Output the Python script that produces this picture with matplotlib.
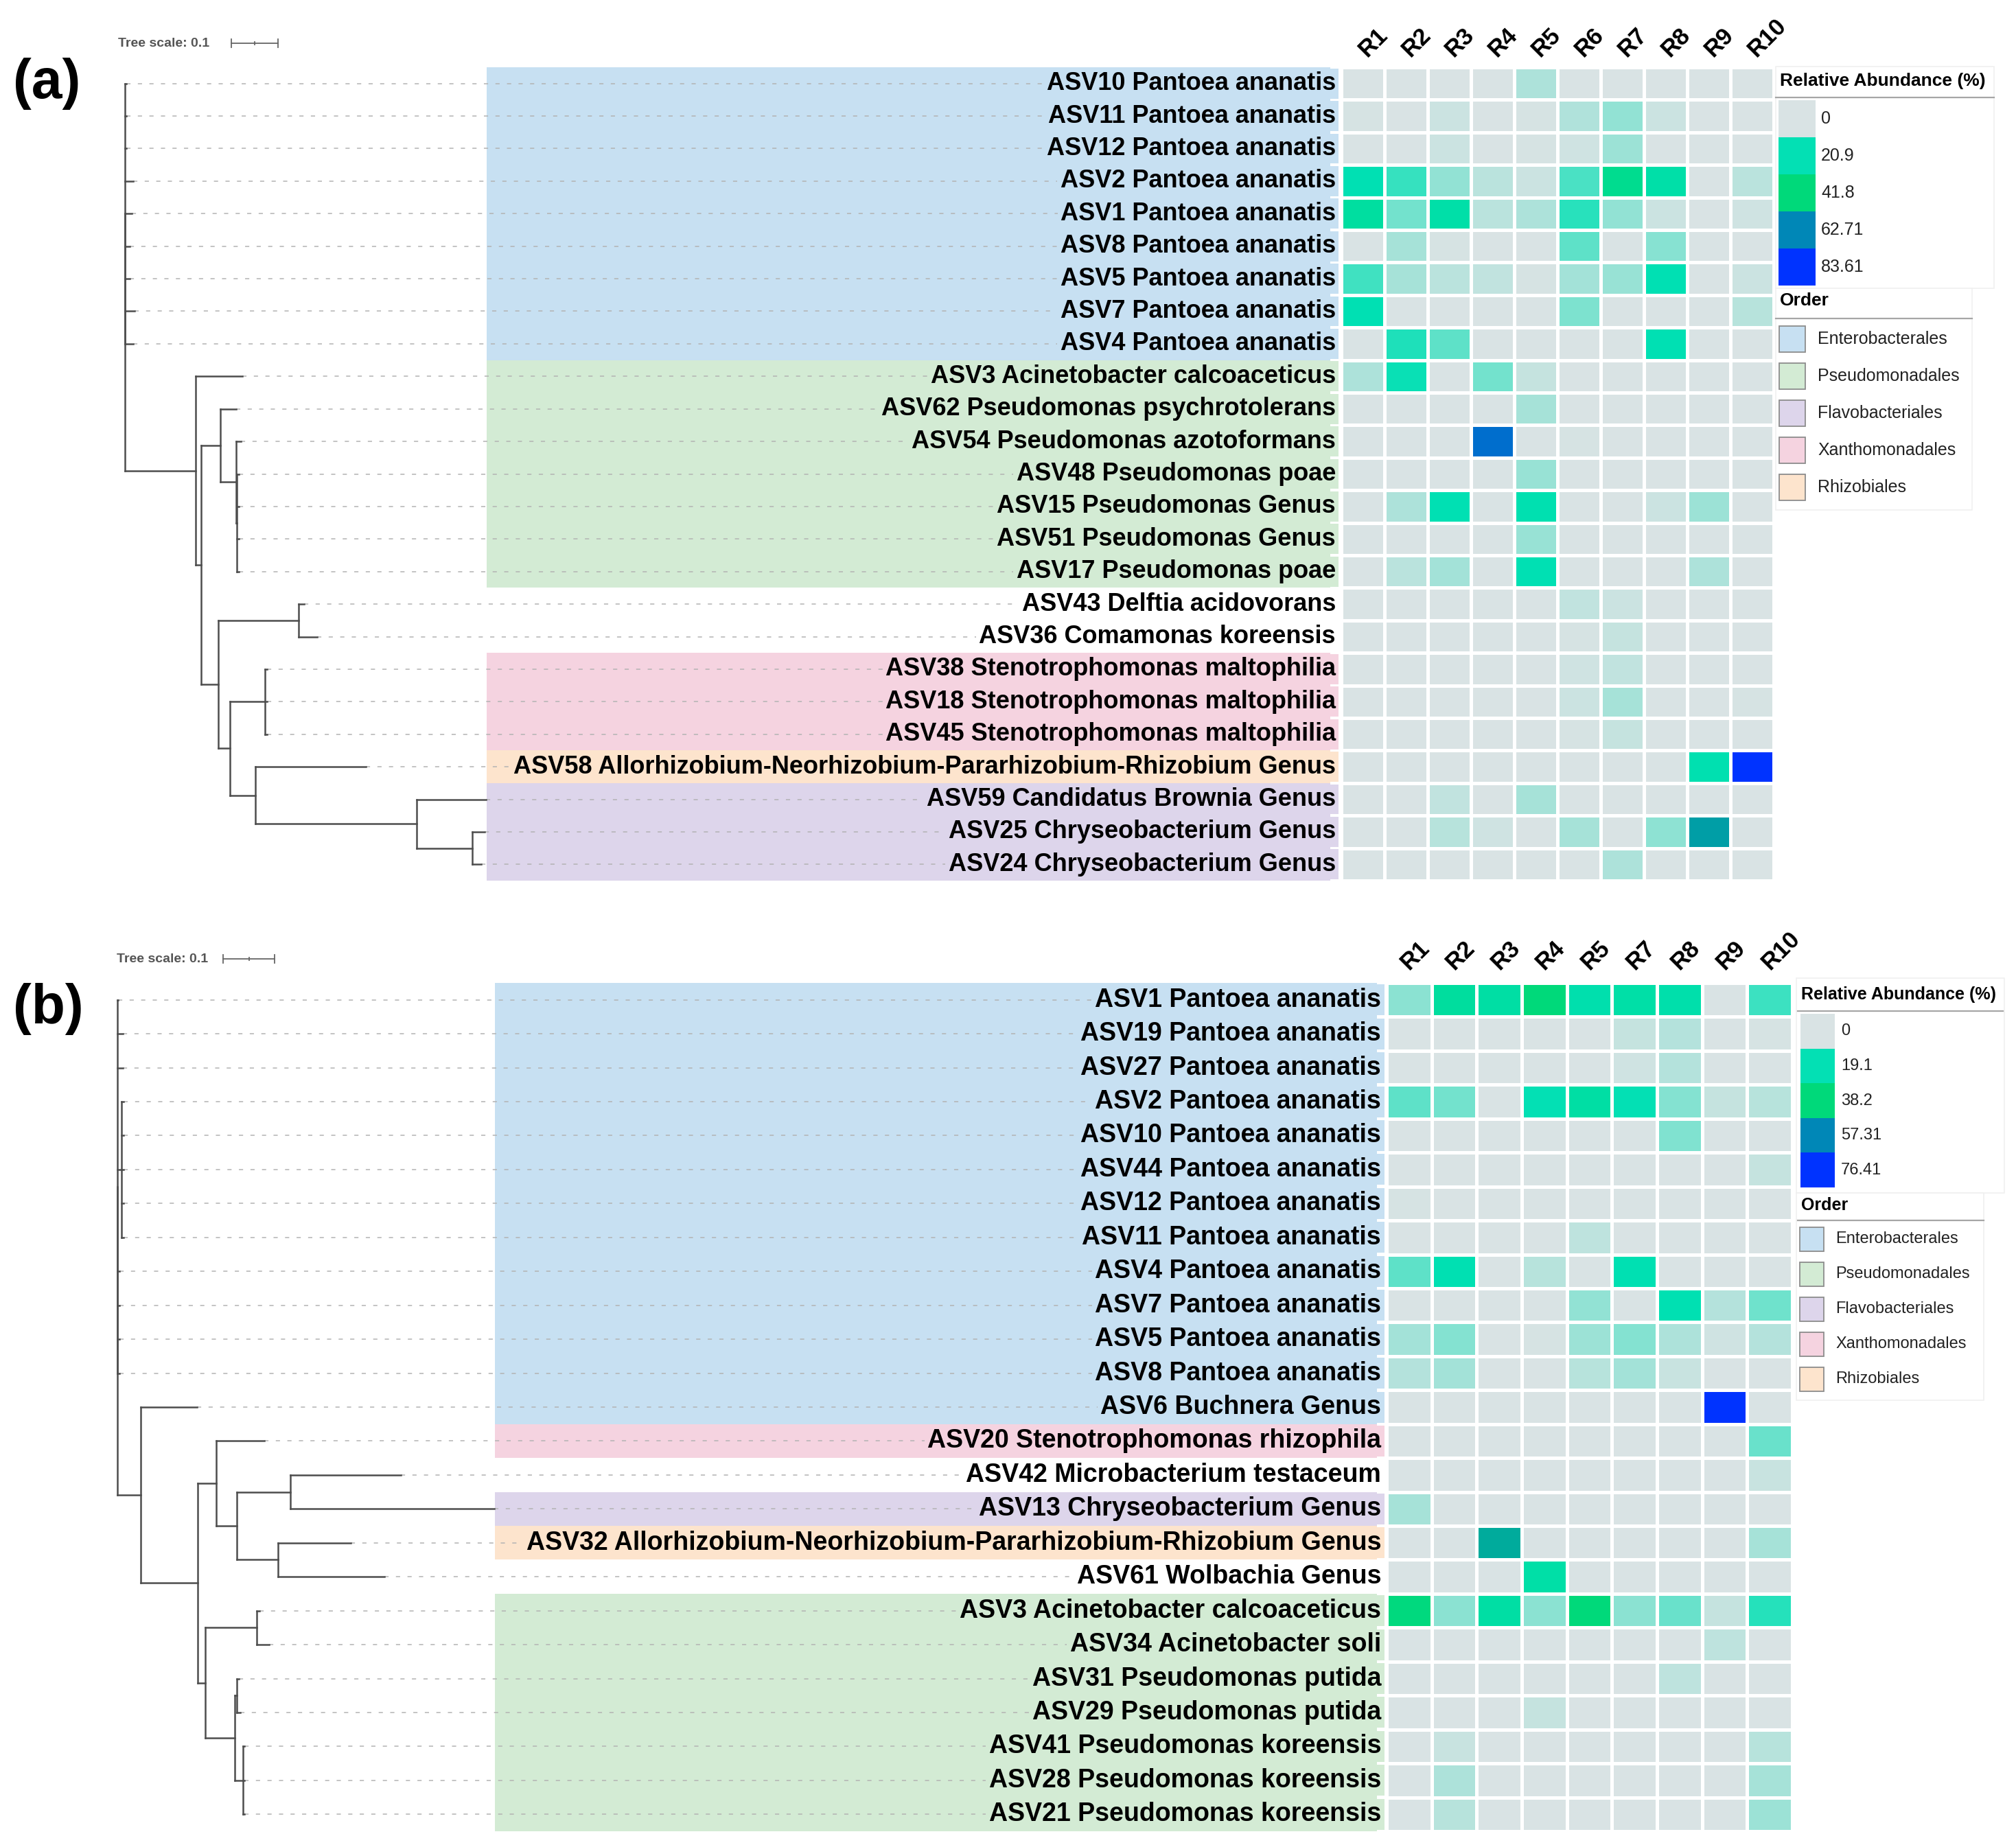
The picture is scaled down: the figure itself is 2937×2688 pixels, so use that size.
import matplotlib
matplotlib.use('Agg')
import matplotlib.pyplot as plt
import numpy as np
from matplotlib.colors import LinearSegmentedColormap
from matplotlib.patches import Rectangle
from matplotlib.collections import LineCollection

# ---- Datos: arboles (Newick), etiquetas, orden y abundancia relativa ----
tree_a = ("((ASV10:0.003,ASV11:0.003,ASV12:0.003,ASV2:0.018,ASV1:0.014,ASV8:0.010,"
          "ASV5:0.010,ASV7:0.021,ASV4:0.018):0.0,(ASV3:0.100,((ASV62:0.034,"
          "(ASV54:0.010,(ASV48:0.004,ASV15:0.004,ASV51:0.004,ASV17:0.004):0.002)"
          ":0.034):0.041,((ASV43:0.012,ASV36:0.040):0.172,((ASV38:0.004,ASV18:0.004,"
          "ASV45:0.004):0.075,(ASV58:0.237,(ASV59:0.149,(ASV25:0.027,ASV24:0.019)"
          ":0.119):0.346):0.054):0.025):0.037):0.012):0.151);")

labels_a = ['ASV10 Pantoea ananatis', 'ASV11 Pantoea ananatis', 'ASV12 Pantoea ananatis',
            'ASV2 Pantoea ananatis', 'ASV1 Pantoea ananatis', 'ASV8 Pantoea ananatis',
            'ASV5 Pantoea ananatis', 'ASV7 Pantoea ananatis', 'ASV4 Pantoea ananatis',
            'ASV3 Acinetobacter calcoaceticus', 'ASV62 Pseudomonas psychrotolerans',
            'ASV54 Pseudomonas azotoformans', 'ASV48 Pseudomonas poae',
            'ASV15 Pseudomonas Genus', 'ASV51 Pseudomonas Genus', 'ASV17 Pseudomonas poae',
            'ASV43 Delftia acidovorans', 'ASV36 Comamonas koreensis',
            'ASV38 Stenotrophomonas maltophilia', 'ASV18 Stenotrophomonas maltophilia',
            'ASV45 Stenotrophomonas maltophilia',
            'ASV58 Allorhizobium-Neorhizobium-Pararhizobium-Rhizobium Genus',
            'ASV59 Candidatus Brownia Genus', 'ASV25 Chryseobacterium Genus',
            'ASV24 Chryseobacterium Genus']

orders_a = ['E', 'E', 'E', 'E', 'E', 'E', 'E', 'E', 'E',
            'P', 'P', 'P', 'P', 'P', 'P', 'P',
            '', '',
            'X', 'X', 'X',
            'R',
            'F', 'F', 'F']

samples_a = ['R1', 'R2', 'R3', 'R4', 'R5', 'R6', 'R7', 'R8', 'R9', 'R10']
levels_a = [0, 20.9, 41.8, 62.71, 83.61]

abund_a = [
    [0, 0, 0, 0, 4.5, 0, 0, 0, 0, 0],
    [0.5, 0, 1.5, 0, 0.5, 4, 7, 1.5, 0, 0],
    [0, 0, 1.5, 0, 0.5, 1, 6, 0, 0, 0],
    [21, 16, 7, 3, 1.5, 14, 34, 25, 0, 3],
    [28, 10, 25, 3, 4.5, 17, 7, 1.5, 0, 1],
    [0, 5, 0.5, 0, 0, 12, 0, 8, 0, 0],
    [15, 5, 3, 2.5, 0.5, 5.5, 6.5, 21, 0, 1.5],
    [21, 0, 0, 0, 0, 9, 0, 0, 0, 3.5],
    [0, 18, 12, 0, 0, 0, 0, 21, 0, 0],
    [4.5, 20, 0, 10, 2, 0, 0, 0, 0, 0],
    [0, 0, 0, 0, 5, 0, 0, 0, 0, 0],
    [0, 0, 0, 69, 0, 0.5, 0, 0, 0, 0],
    [0, 0, 0, 0, 6.5, 0, 0, 0, 0, 0],
    [0, 4.5, 21, 0, 22, 0, 0, 1.5, 6, 0],
    [0, 0, 0, 0, 6.5, 0, 0, 0, 0, 0],
    [0, 3, 5.5, 0, 21, 0, 0, 0, 4.5, 0],
    [0, 0, 0, 0, 0, 2.5, 1.5, 0, 0, 0],
    [0, 0, 0, 0, 0, 0.5, 2, 0, 0, 0],
    [0, 0, 0, 0, 0, 1, 2.5, 0, 0, 0],
    [0, 0, 0, 0, 0, 1.5, 5, 0, 0, 0.5],
    [0, 0, 0, 0, 0, 0.5, 2, 0, 0, 0],
    [0, 0, 0, 0, 0, 0, 0, 0, 22, 83.61],
    [0, 0, 2.5, 0, 5, 0, 0, 0, 0, 0],
    [0, 0, 3.5, 1, 0, 5, 0, 7.5, 57, 0],
    [0, 0, 0, 0, 0, 0, 4.5, 0, 0, 0],
]

tree_b = ("((ASV1:0.001,ASV19:0.010,ASV27:0.010,(ASV2:0.004,ASV10:0.004,ASV44:0.004,"
          "ASV12:0.004,ASV11:0.004):0.008,ASV4:0.004,ASV7:0.004,ASV5:0.004,ASV8:0.004)"
          ":0.0,(ASV6:0.110,((ASV20:0.093,((ASV42:0.215,ASV13:0.396):0.104,"
          "(ASV32:0.141,ASV61:0.207):0.080):0.040):0.036,((ASV3:0.005,ASV34:0.024)"
          ":0.100,((ASV31:0.004,ASV29:0.007):0.004,(ASV41:0.003,ASV28:0.003,"
          "ASV21:0.003):0.016):0.057):0.015):0.111):0.045);")

labels_b = ['ASV1 Pantoea ananatis', 'ASV19 Pantoea ananatis', 'ASV27 Pantoea ananatis',
            'ASV2 Pantoea ananatis', 'ASV10 Pantoea ananatis', 'ASV44 Pantoea ananatis',
            'ASV12 Pantoea ananatis', 'ASV11 Pantoea ananatis', 'ASV4 Pantoea ananatis',
            'ASV7 Pantoea ananatis', 'ASV5 Pantoea ananatis', 'ASV8 Pantoea ananatis',
            'ASV6 Buchnera Genus', 'ASV20 Stenotrophomonas rhizophila',
            'ASV42 Microbacterium testaceum', 'ASV13 Chryseobacterium Genus',
            'ASV32 Allorhizobium-Neorhizobium-Pararhizobium-Rhizobium Genus',
            'ASV61 Wolbachia Genus', 'ASV3 Acinetobacter calcoaceticus',
            'ASV34 Acinetobacter soli', 'ASV31 Pseudomonas putida',
            'ASV29 Pseudomonas putida', 'ASV41 Pseudomonas koreensis',
            'ASV28 Pseudomonas koreensis', 'ASV21 Pseudomonas koreensis']

orders_b = ['E', 'E', 'E', 'E', 'E', 'E', 'E', 'E', 'E', 'E', 'E', 'E', 'E',
            'X', '', 'F', 'R', '',
            'P', 'P', 'P', 'P', 'P', 'P', 'P']

samples_b = ['R1', 'R2', 'R3', 'R4', 'R5', 'R7', 'R8', 'R9', 'R10']
levels_b = [0, 19.1, 38.2, 57.31, 76.41]

abund_b = [
    [7, 26, 24, 38, 21, 23, 22, 0, 14],
    [0, 0, 0, 0, 0, 2, 3.5, 0, 0.5],
    [0, 0, 0, 0, 0, 1, 3.5, 0, 0],
    [11, 9, 0, 19, 24, 19, 7.5, 2, 3],
    [0, 0, 0, 0, 0, 0, 8, 0, 0],
    [0, 0, 0, 0, 0, 0, 0, 0, 2],
    [0.5, 0, 0, 0, 0, 0, 0, 0, 0],
    [0, 0, 0, 0, 2.5, 0, 0, 0, 0],
    [11, 19.5, 0, 3, 0, 19.5, 0, 0, 0],
    [0, 0, 0, 0, 6.5, 0, 19.5, 3.5, 9.5],
    [5, 7.5, 0, 0.5, 5.5, 7.5, 4, 1, 3.5],
    [3.5, 5, 0, 0, 3, 5, 1.5, 0, 0],
    [0, 0, 0, 0, 0, 0, 0, 76.41, 0],
    [0, 0, 0, 0, 0, 0, 0, 0, 10],
    [0, 0, 0, 0, 0, 0, 0, 0, 1.5],
    [4.5, 0, 0, 0, 0, 0, 0, 0, 0],
    [0, 0, 49, 0, 0, 0, 0, 0, 4.5],
    [0, 0, 0, 23, 0, 0, 0, 0, 0],
    [37, 7, 24, 7, 38, 7, 10, 2, 16],
    [0, 0, 0, 0, 0, 0, 0, 2.5, 0],
    [0, 0, 0, 0, 0, 0, 2.5, 0, 0],
    [0, 0, 0, 2, 0, 0, 0, 0, 0],
    [0, 1.5, 0, 0, 0, 0, 0, 0, 3],
    [0, 4, 0, 0, 0, 0, 0, 0, 4.5],
    [0, 3, 0, 0, 0, 0, 0, 0, 5.5],
]

order_codes = ['E', 'P', 'F', 'X', 'R']
order_names = ['Enterobacterales', 'Pseudomonadales', 'Flavobacteriales',
               'Xanthomonadales', 'Rhizobiales']
order_colors = ['#C7E0F2', '#D3EBD4', '#DDD5EB', '#F5D3E0', '#FDE4CD']
heat_colors = ['#D9E3E4', '#00E0B3', '#00D97A', '#0088B6', '#0033FF']

ARIAL = ['Liberation Sans', 'DejaVu Sans']

W, H = 2937, 2688
fig = plt.figure(figsize=(W / 100, H / 100), dpi=100)


def rect_px(x0, y0, x1, y1):
    # caja en pixeles de la figura -> rect de axes
    return [x0 / W, 1 - y1 / H, (x1 - x0) / W, (y1 - y0) / H]


def parse_newick(s):
    s = s.strip().rstrip(';')
    pos = 0

    def node():
        nonlocal pos
        kids = []
        if s[pos] == '(':
            pos += 1
            kids.append(node())
            while s[pos] == ',':
                pos += 1
                kids.append(node())
            pos += 1
        start = pos
        while pos < len(s) and s[pos] not in ',():':
            pos += 1
        name = s[start:pos]
        bl = 0.0
        if pos < len(s) and s[pos] == ':':
            pos += 1
            start = pos
            while pos < len(s) and s[pos] not in ',()':
                pos += 1
            bl = float(s[start:pos])
        return {'name': name, 'bl': bl, 'kids': kids}
    return node()


def layout(nd, depth, tips, segs):
    x = depth + nd['bl']
    if not nd['kids']:
        y = len(tips)
        tips.append((nd['name'], x, y))
    else:
        ys = [layout(k, x, tips, segs) for k in nd['kids']]
        y = (ys[0] + ys[-1]) / 2
        segs.append([(x, ys[0]), (x, ys[-1])])
    segs.append([(depth, y), (x, y)])
    return y


# overlay para leyendas y letras
ov = fig.add_axes([0, 0, 1, 1])
ov.set_xlim(0, W)
ov.set_ylim(H, 0)
ov.axis('off')


def panel(tree, labels, orders, samples, abund, levels, g):
    n = len(labels)
    rowh = (g['bottom'] - g['top']) / n
    cmap = LinearSegmentedColormap.from_list('ab', list(zip(np.linspace(0, 1, 5), heat_colors)))

    # --- arbol ---
    ax = fig.add_axes(rect_px(g['tree_left'], g['top'], g['heat_left'], g['bottom']))
    ax.set_xlim((g['tree_left'] - g['root']) / g['ppu'], (g['heat_left'] - g['root']) / g['ppu'])
    ax.set_ylim(n - 0.5, -0.5)
    ax.axis('off')

    bx0 = (g['band_x0'] - g['root']) / g['ppu']
    bx1 = (g['band_x1'] - g['root']) / g['ppu']
    tx = (g['text_right'] - g['root']) / g['ppu']

    # bandas de color por orden (se juntan filas seguidas)
    i = 0
    while i < n:
        j = i
        while j + 1 < n and orders[j + 1] == orders[i]:
            j += 1
        if orders[i]:
            c = order_colors[order_codes.index(orders[i])]
            ax.add_patch(Rectangle((bx0, i - 0.5), bx1 - bx0, j - i + 1, fc=c, ec='none', zorder=1))
        i = j + 1

    tips, segs = [], []
    layout(parse_newick(tree), 0.0, tips, segs)
    names = {lab.split()[0]: lab for lab in labels}

    for name, x, y in tips:
        ax.plot([x, tx - 0.3], [y, y], ls=(0, (4, 7)), color='#B3B3B3', lw=1.1, zorder=2)
        o = orders[y]
        fc = order_colors[order_codes.index(o)] if o else 'white'
        ax.text(tx, y, names[name], ha='right', va='center', fontsize=g['fs'],
                family=ARIAL, fontweight='bold', zorder=4,
                bbox=dict(boxstyle='square,pad=0.12', fc=fc, ec='none'))

    ax.add_collection(LineCollection(segs, colors='#4D4D4D', linewidths=1.8,
                                     capstyle='projecting', zorder=3))

    # escala del arbol
    sy = (g['scale_y'] - g['top']) / rowh - 0.5
    sx0 = (g['scale_x'] - g['root']) / g['ppu']
    ax.plot([sx0, sx0 + 0.1], [sy, sy], color='#666666', lw=1.3, clip_on=False)
    for xx, hh in [(sx0, 0.12), (sx0 + 0.1, 0.12), (sx0 + 0.05, 0.05)]:
        ax.plot([xx, xx], [sy - hh, sy + hh], color='#666666', lw=1.3, clip_on=False)
    ax.text((g['scale_tx'] - g['root']) / g['ppu'], sy, 'Tree scale: 0.1', ha='left',
            va='center', fontsize=14, family=ARIAL, fontweight='bold', color='#555555',
            clip_on=False)

    # --- heatmap ---
    hx = fig.add_axes(rect_px(g['heat_left'], g['top'], g['heat_right'], g['bottom']))
    data = np.array(abund)
    hx.pcolormesh(np.arange(len(samples) + 1), np.arange(n + 1), data, cmap=cmap,
                  vmin=levels[0], vmax=levels[-1], edgecolors='white', linewidth=2.2)
    hx.set_xlim(0, len(samples))
    hx.set_ylim(n, 0)
    hx.axis('off')
    for k, s in enumerate(samples):
        hx.text(k + g['col_dx'], -g['col_dy'], s, rotation=45, rotation_mode='anchor',
                ha='left', va='baseline', fontsize=25, fontweight='bold', family=ARIAL,
                clip_on=False)

    # --- leyendas ---
    L = g['leg']
    ov.add_patch(Rectangle((L['box1'][0], L['box1'][1]), L['box1'][2] - L['box1'][0],
                           L['box1'][3] - L['box1'][1], fc='white', ec='#F0F0F0', lw=1.2))
    ov.add_patch(Rectangle((L['box2'][0], L['box2'][1]), L['box2'][2] - L['box2'][0],
                           L['box2'][3] - L['box2'][1], fc='white', ec='#F0F0F0', lw=1.2))
    ov.text(L['x'], L['title_y'], 'Relative Abundance (%)', ha='left', va='center',
            fontsize=L['fs'], fontweight='bold', family=ARIAL)
    ov.plot([L['line_x0'], L['line_x1']], [L['line_y'], L['line_y']], color='#A6A6A6', lw=1.6)
    for k, lv in enumerate(levels):
        y0 = L['sw_top'] + k * L['sw_h']
        ov.add_patch(Rectangle((L['sw_x'], y0), L['sw_w'], L['sw_h'],
                               fc=cmap(lv / levels[-1]), ec='none'))
        ov.text(L['lab_x'], y0 + L['sw_h'] / 2, f'{lv:g}', ha='left', va='center',
                fontsize=L['fs'] - 1, family=ARIAL, color='#222222')
    ov.text(L['x'], L['ord_y'], 'Order', ha='left', va='center',
            fontsize=L['fs'], fontweight='bold', family=ARIAL)
    ov.plot([L['line_x0'], L['ord_line_x1']], [L['ord_line_y'], L['ord_line_y']],
            color='#A6A6A6', lw=1.6)
    for k, (nm, c) in enumerate(zip(order_names, order_colors)):
        yc = L['item_y0'] + k * L['item_dy']
        ov.add_patch(Rectangle((L['sq_x'], yc - L['sq'] / 2), L['sq'], L['sq'],
                               fc=c, ec='#8C8C8C', lw=1.3))
        ov.text(L['item_lab_x'], yc, nm, ha='left', va='center', fontsize=L['fs'] - 1,
                family=ARIAL, color='#222222')

    ov.text(g['letter'][0], g['letter'][1], g['letter'][2], ha='center', va='center',
            fontsize=58, fontweight='bold', family=ARIAL)


geo_a = dict(tree_left=150, root=182, ppu=680, top=98, bottom=1283, heat_left=1954,
             heat_right=2584, band_x0=709, band_x1=1938, text_right=1946, fs=26,
             col_dx=0.6, col_dy=0.3, scale_y=63, scale_x=337, scale_tx=172,
             letter=(68, 122, '(a)'),
             leg=dict(x=2593, title_y=118, line_x0=2587, line_x1=2905, line_y=142,
                      sw_x=2591, sw_w=54, sw_top=146, sw_h=54, lab_x=2653,
                      ord_y=438, ord_line_y=464, ord_line_x1=2873,
                      sq_x=2592, sq=38, item_y0=494, item_dy=54, item_lab_x=2648, fs=19,
                      box1=(2587, 97, 2905, 420), box2=(2587, 420, 2873, 743)))

geo_b = dict(tree_left=140, root=171, ppu=750, top=1432, bottom=2668, heat_left=2020,
             heat_right=2611, band_x0=721, band_x1=2006, text_right=2012, fs=27,
             col_dx=0.5, col_dy=0.36, scale_y=1397, scale_x=325, scale_tx=170,
             letter=(70, 1470, '(b)'),
             leg=dict(x=2624, title_y=1449, line_x0=2619, line_x1=2918, line_y=1473,
                      sw_x=2623, sw_w=50, sw_top=1477, sw_h=50.6, lab_x=2682,
                      ord_y=1756, ord_line_y=1778, ord_line_x1=2890,
                      sq_x=2622, sq=35, item_y0=1805, item_dy=51, item_lab_x=2674, fs=18,
                      box1=(2617, 1425, 2920, 1738), box2=(2617, 1738, 2890, 2040)))

panel(tree_a, labels_a, orders_a, samples_a, abund_a, levels_a, geo_a)
panel(tree_b, labels_b, orders_b, samples_b, abund_b, levels_b, geo_b)

fig.savefig('out.png', dpi=100, facecolor='white')
